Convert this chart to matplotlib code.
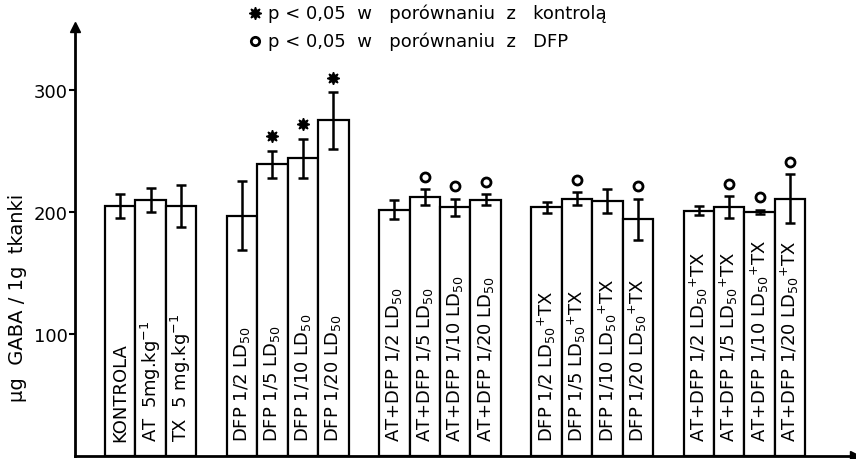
import matplotlib
matplotlib.use("Agg")
import matplotlib.pyplot as plt
import numpy as np

# GABA content per group
LABELS = [
    "KONTROLA",
    "AT  5mg.kg$^{-1}$",
    "TX  5 mg.kg$^{-1}$",
    "DFP 1/2 LD$_{50}$",
    "DFP 1/5 LD$_{50}$",
    "DFP 1/10 LD$_{50}$",
    "DFP 1/20 LD$_{50}$",
    "AT+DFP 1/2 LD$_{50}$",
    "AT+DFP 1/5 LD$_{50}$",
    "AT+DFP 1/10 LD$_{50}$",
    "AT+DFP 1/20 LD$_{50}$",
    "DFP 1/2 LD$_{50}$$^{+}$TX",
    "DFP 1/5 LD$_{50}$$^{+}$TX",
    "DFP 1/10 LD$_{50}$$^{+}$TX",
    "DFP 1/20 LD$_{50}$$^{+}$TX",
    "AT+DFP 1/2 LD$_{50}$$^{+}$TX",
    "AT+DFP 1/5 LD$_{50}$$^{+}$TX",
    "AT+DFP 1/10 LD$_{50}$$^{+}$TX",
    "AT+DFP 1/20 LD$_{50}$$^{+}$TX",
]
MEANS = [205, 210, 205, 197, 239, 244, 275, 202, 212, 204, 210,
         204, 211, 209, 194, 201, 204, 200, 211]
ERRS = [10, 10, 17, 28, 11, 16, 23, 8, 6.5, 7, 4.5,
        4.5, 5, 10, 17, 3.5, 9, 2, 20]
GROUP_SIZES = [3, 4, 4, 4, 4]
# significance: "*" vs control, "o" vs DFP
SIG = ["", "", "", "", "*", "*", "*", "", "o", "o", "o",
       "", "o", "", "o", "", "o", "o", "o"]
YTICKS = [100, 200, 300]

LEGEND = [("*", "p < 0,05  w   porównaniu  z   kontrolą"),
          ("o", "p < 0,05  w   porównaniu  z   DFP")]

plt.rcParams["font.family"] = ["DejaVu Sans"]
plt.rcParams["mathtext.fontset"] = "dejavusans"

fig = plt.figure(figsize=(8.56, 4.6), dpi=100)
ax = fig.add_axes([75 / 856, 3 / 460, 780 / 856, 429 / 460])

# bar slots: one empty slot between groups
xs = []
slot = 0
for n in GROUP_SIZES:
    xs.extend(range(slot, slot + n))
    slot += n + 1
xs = np.array(xs, dtype=float)
centers = xs + 0.5

ax.bar(xs, MEANS, width=1.0, align="edge", color="white",
       edgecolor="black", linewidth=1.6, zorder=2)
ax.errorbar(centers, MEANS, yerr=ERRS, fmt="none", ecolor="black",
            elinewidth=1.8, capsize=3.5, capthick=1.8, zorder=3)

for x, lab in zip(centers, LABELS):
    ax.text(x, 12, lab, rotation=90, ha="center", va="bottom",
            fontsize=13, zorder=4)

for x, m, e, s in zip(centers, MEANS, ERRS, SIG):
    if s == "*":
        ax.plot(x, m + e + 12, marker=(8, 1, 0), color="black", ms=9, zorder=4)
    elif s == "o":
        ax.plot(x, m + e + 10, marker="o", mfc="white", mec="black",
                mew=2, ms=6.5, zorder=4)

ax.set_xlim(-0.985, 24.63)
ax.set_ylim(0, 351.6)
ax.set_yticks(YTICKS)
ax.set_yticklabels([str(t) for t in YTICKS], fontsize=13)
ax.set_xticks([])
ax.tick_params(axis="y", direction="out", length=4, width=1.5, pad=1)
for side in ("top", "right"):
    ax.spines[side].set_visible(False)
for side in ("left", "bottom"):
    ax.spines[side].set_linewidth(2)
ax.plot(1, 0, ">k", ms=7, transform=ax.transAxes, clip_on=False)
ax.plot(0, 1, "^k", ms=7, transform=ax.transAxes, clip_on=False)

fig.text(18 / 856, 1 - 298 / 460, "μg  GABA / 1g  tkanki", rotation=90,
         ha="center", va="center", fontsize=14)

for i, (m, txt) in enumerate(LEGEND):
    y = 1 - (14 + 28 * i) / 460
    if m == "*":
        fig.add_artist(plt.Line2D([255 / 856], [y], marker=(8, 1, 0),
                                  color="black", ms=9))
    else:
        fig.add_artist(plt.Line2D([255 / 856], [y], marker="o", mfc="white",
                                  mec="black", mew=2, ms=6))
    fig.text(268 / 856, y, txt, ha="left", va="center", fontsize=13)

fig.savefig("out.png", dpi=100)
